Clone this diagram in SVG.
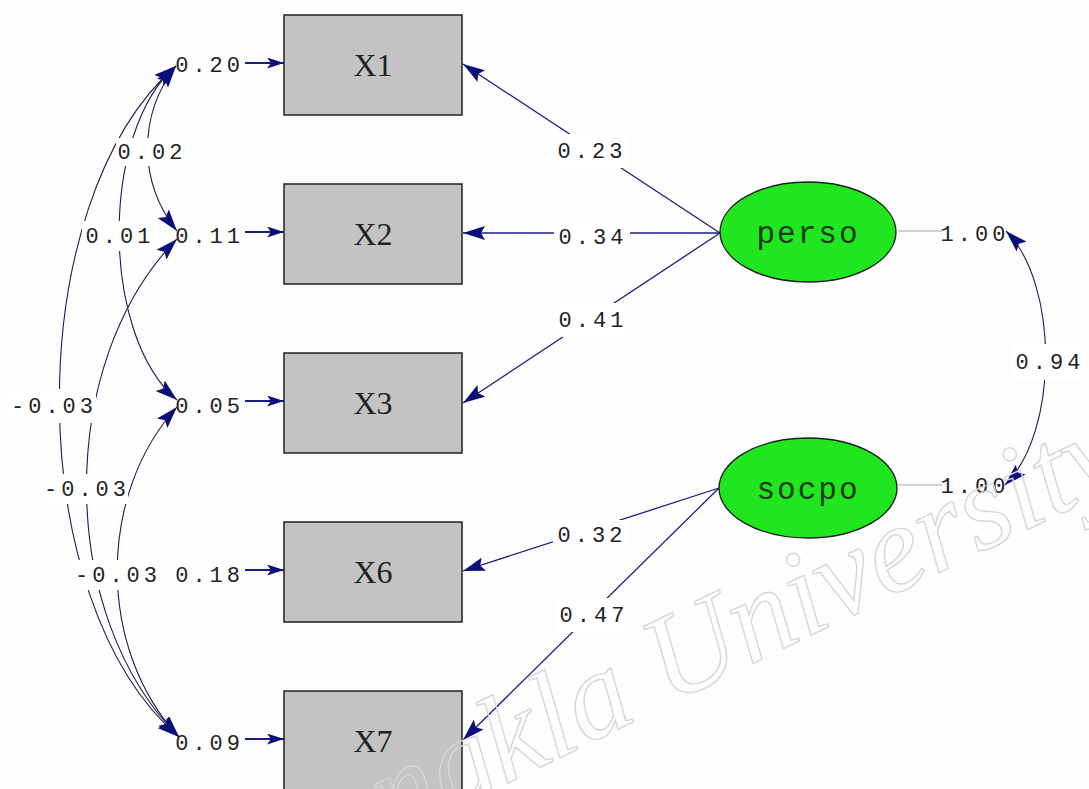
<svg xmlns="http://www.w3.org/2000/svg" width="1089" height="789" viewBox="0 0 1089 789">
  <style>
    .box { fill: #c3c3c3; stroke: #222; stroke-width: 1.5; }
    .lat { fill: #1fe61f; stroke: #1a1a1a; stroke-width: 1.3; }
    .obs { font-family: "Liberation Serif", serif; font-size: 32px; fill: #222; text-anchor: middle; }
    .latt { font-family: "Liberation Mono", monospace; font-size: 31px; letter-spacing: 2px; fill: #1a3a1a; text-anchor: middle; }
    .num { font-family: "Liberation Mono", monospace; font-size: 22px; letter-spacing: 4px; fill: #222; }
    .mid { text-anchor: middle; }
    .end { text-anchor: end; }
    .load { fill: none; stroke: #1c1c80; stroke-width: 1.3; }
    .cov { fill: none; stroke: #1e1e4e; stroke-width: 1.1; }
    .err { fill: none; stroke: #1c1c80; stroke-width: 2; }
    .var { fill: none; stroke: #a8a8a8; stroke-width: 1.2; }
    .bg { fill: #ffffff; }
    .wm { font-family: "Liberation Serif", serif; font-style: italic; font-size: 124px; fill: none; stroke: #d6d6d6; stroke-width: 1.4; }
  </style>
  <defs>
    <!-- notched arrowhead used on loadings and covariance curves -->
    <marker id="ah" viewBox="0 0 22 14" refX="22" refY="7" markerWidth="22" markerHeight="14" markerUnits="userSpaceOnUse" orient="auto-start-reverse">
      <path d="M0,0 L22,7 L0,14 L4,7 Z" fill="#0e0e7a"/>
    </marker>
    <!-- short arrowhead for the error terms -->
    <marker id="ahs" viewBox="0 0 17 11" refX="17" refY="5.5" markerWidth="17" markerHeight="11" markerUnits="userSpaceOnUse" orient="auto">
      <path d="M0,0 L17,5.5 L0,11 L4,5.5 Z" fill="#0e0e7a"/>
    </marker>
  </defs>

  <rect width="1089" height="789" fill="#fdfdfd"/>

  <!-- connectors -->
  <g id="connectors">
    <!-- error terms into indicators -->
    <line class="err" x1="245" y1="63" x2="284" y2="63" marker-end="url(#ahs)"/>
    <line class="err" x1="245" y1="232" x2="284" y2="232" marker-end="url(#ahs)"/>
    <line class="err" x1="245" y1="401" x2="284" y2="401" marker-end="url(#ahs)"/>
    <line class="err" x1="245" y1="570" x2="284" y2="570" marker-end="url(#ahs)"/>
    <line class="err" x1="245" y1="739" x2="284" y2="739" marker-end="url(#ahs)"/>

    <!-- error covariances -->
    <path class="cov" d="M176,66 C138,115 138,182 177,231" marker-start="url(#ah)" marker-end="url(#ah)"/>
    <path class="cov" d="M176,66 C100,131 100,335 177,400" marker-start="url(#ah)" marker-end="url(#ah)"/>
    <path class="cov" d="M176,66 C20,202 20,601 179,737" marker-start="url(#ah)" marker-end="url(#ah)"/>
    <path class="cov" d="M177,239 C56,362 56,614 179,737" marker-start="url(#ah)" marker-end="url(#ah)"/>
    <path class="cov" d="M177,407 C97,495 97,649 179,737" marker-start="url(#ah)" marker-end="url(#ah)"/>

    <!-- loadings -->
    <line class="load" x1="720" y1="233" x2="463" y2="64" marker-end="url(#ah)"/>
    <line class="load" x1="720" y1="233" x2="463" y2="233" stroke-width="2" marker-end="url(#ah)"/>
    <line class="load" x1="720" y1="233" x2="463" y2="403" marker-end="url(#ah)"/>
    <line class="load" x1="719" y1="488" x2="463" y2="571" marker-end="url(#ah)"/>
    <line class="load" x1="719" y1="488" x2="463" y2="740" marker-end="url(#ah)"/>

    <!-- latent variances and covariance -->
    <line class="var" x1="898" y1="231" x2="942" y2="231"/>
    <line class="var" x1="898" y1="485" x2="942" y2="485"/>
    <path class="cov" d="M1006,231 C1059,284 1059,432 1005,485" marker-start="url(#ah)" marker-end="url(#ah)"/>
  </g>

  <!-- coefficient labels -->
  <g id="labels">
    <rect class="bg" x="116" y="138" width="70" height="28"/>
    <text class="num mid" x="152" y="159">0.02</text>
    <rect class="bg" x="82" y="221" width="72" height="30"/>
    <text class="num mid" x="120" y="243">0.01</text>
    <rect class="bg" x="6" y="389" width="90" height="34"/>
    <text class="num mid" x="54" y="413">-0.03</text>
    <rect class="bg" x="42" y="474" width="86" height="30"/>
    <text class="num mid" x="87" y="496">-0.03</text>
    <rect class="bg" x="72" y="560" width="88" height="30"/>
    <text class="num mid" x="118" y="582">-0.03</text>

    <text class="num end" x="244" y="72">0.20</text>
    <text class="num end" x="244" y="243">0.11</text>
    <text class="num end" x="244" y="413">0.05</text>
    <text class="num end" x="244" y="582">0.18</text>
    <text class="num end" x="244" y="750">0.09</text>

    <rect class="bg" x="553" y="134" width="76" height="34"/>
    <text class="num mid" x="592" y="158">0.23</text>
    <rect class="bg" x="554" y="224" width="76" height="26"/>
    <text class="num mid" x="593" y="244">0.34</text>
    <rect class="bg" x="554" y="303" width="76" height="34"/>
    <text class="num mid" x="593" y="327">0.41</text>
    <rect class="bg" x="553" y="520" width="76" height="30"/>
    <text class="num mid" x="592" y="542">0.32</text>
    <rect class="bg" x="555" y="598" width="76" height="34"/>
    <text class="num mid" x="594" y="622">0.47</text>

    <rect class="bg" x="1012" y="344" width="74" height="36"/>
    <text class="num mid" x="1050" y="369">0.94</text>
    <text class="num mid" x="975" y="241">1.00</text>
    <text class="num mid" x="975" y="493">1.00</text>
  </g>

  <!-- observed indicators -->
  <g id="X1"><rect class="box" x="284" y="15" width="178" height="100"/><text class="obs" x="373" y="76">X1</text></g>
  <g id="X2"><rect class="box" x="284" y="184" width="178" height="100"/><text class="obs" x="373" y="245">X2</text></g>
  <g id="X3"><rect class="box" x="284" y="353" width="178" height="100"/><text class="obs" x="373" y="414">X3</text></g>
  <g id="X6"><rect class="box" x="284" y="522" width="178" height="100"/><text class="obs" x="373" y="583">X6</text></g>
  <g id="X7"><rect class="box" x="284" y="691" width="178" height="100"/><text class="obs" x="373" y="752">X7</text></g>

  <!-- latent factors -->
  <g id="perso"><ellipse class="lat" cx="808" cy="232" rx="88" ry="50"/><text class="latt" x="808" y="243">perso</text></g>
  <g id="socpo"><ellipse class="lat" cx="808" cy="488" rx="89" ry="50"/><text class="latt" x="808" y="499">socpo</text></g>

  <!-- watermark -->
  <g transform="translate(668,705) rotate(-26)">
    <text class="wm" x="-430" y="0">Songkla University</text>
  </g>
</svg>
